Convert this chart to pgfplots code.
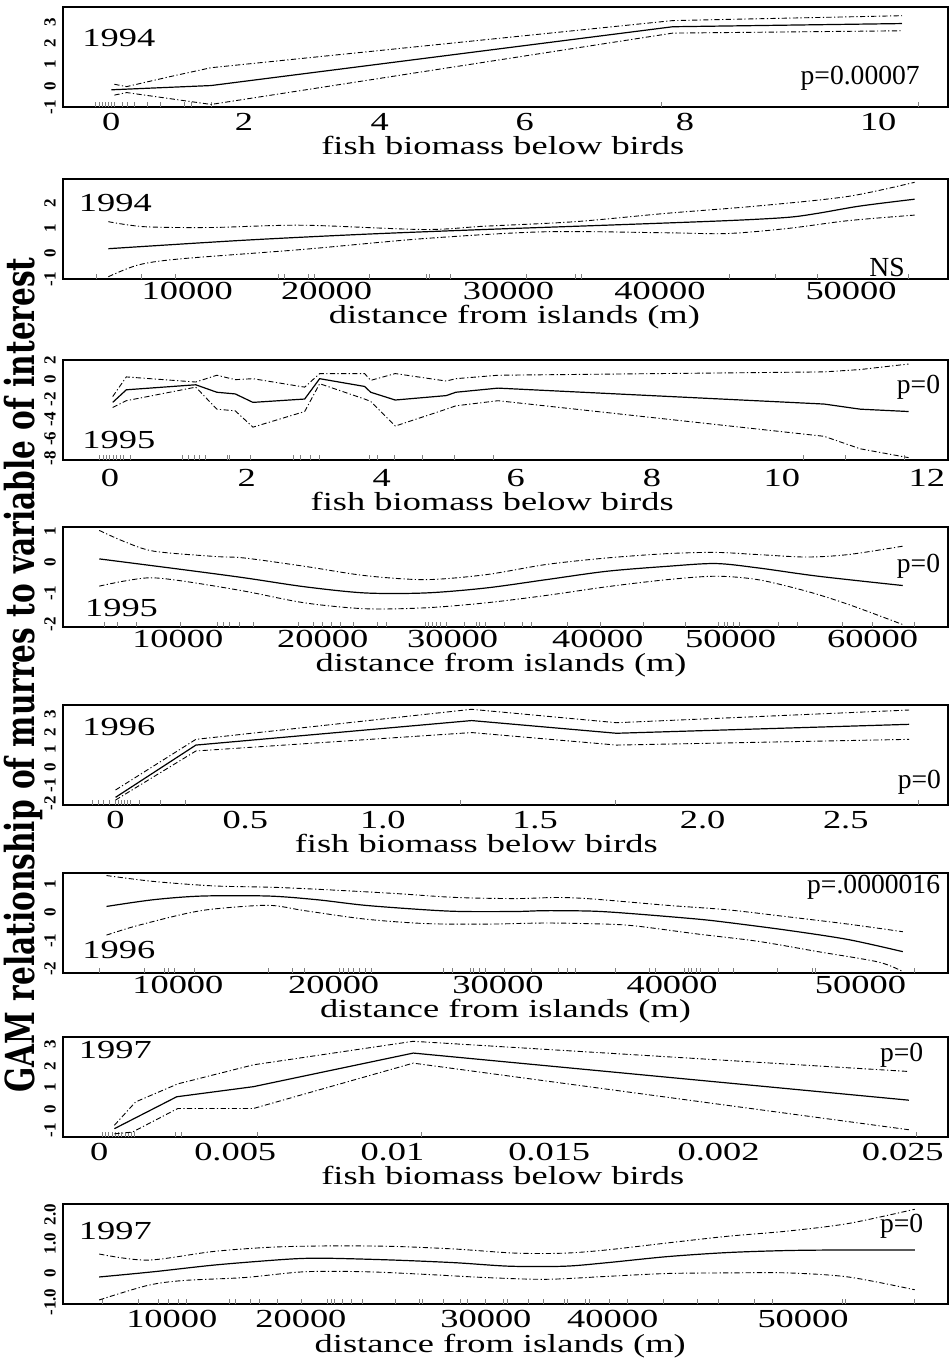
\documentclass[border=0pt]{standalone}
\usepackage{fontspec}
\setmainfont{Liberation Serif}[FakeStretch=1.4]
\newfontfamily\pfont{Liberation Serif}[FakeStretch=1.0]
\newfontfamily\yfont{Liberation Serif}
\newfontfamily\bigfont{DejaVu Serif}[FakeStretch=0.74]
\usepackage{pgfplots}
\pgfplotsset{compat=1.18}
\newcommand\tf{\fontsize{13}{14}\selectfont}
\newcommand\yf{\yfont\bfseries\fontsize{8.5}{9}\selectfont}
\newcommand\pf{\pfont\fontsize{13.8}{15}\selectfont}
\pgfplotsset{
  gam/.style={
    scale only axis, width=442.5pt, height=50pt, anchor=north west,
    axis line style={line width=0.8pt},
    xtick pos=bottom, ytick pos=left,
    major tick length=0pt,
    xticklabel style={font=\tf, anchor=center, inner sep=0pt},
    yticklabel style={font=\yf, rotate=90, anchor=center, inner sep=0pt},
    yticklabel shift=6.5pt,
    extra x tick style={major tick length=2.6pt, tick align=inside, tick style={line width=0.5pt}},
    extra x tick labels={},
    xlabel style={font=\tf, anchor=center, inner sep=0pt},
    scaled x ticks=false, scaled y ticks=false,
  },
  fit/.style={black, line width=0.6pt},
  band/.style={black, line width=0.45pt, dash pattern=on 2.6pt off 1.2pt on 0.6pt off 1.2pt},
}
\begin{document}
\begin{tikzpicture}
\path[use as bounding box] (0,0) rectangle (475pt,-679pt);
\node[rotate=90, font=\bigfont\bfseries\fontsize{20}{22}\selectfont] at (11.5pt,-337.5pt) {GAM relationship of murres to variable of interest};

% Panel 1
\begin{axis}[gam, at={(31.5pt,-3.5pt)},
  xmin=-0.63, xmax=10.91, ymin=-1, ymax=3.71,
  xtick={0,1.73,3.50,5.39,7.48,10}, xticklabels={0,2,4,6,8,10},
  ytick={-1,0,1,2,3}, yticklabels={-1,0,1,2,3},
  xticklabel shift=7.5pt,
  xlabel={fish biomass below birds}, xlabel style={at={(axis description cs:0.497,0)}, yshift=-19pt},
  extra x ticks={-0.2,-0.16,-0.12,-0.08,-0.04,0,0.04,0.15,0.21,0.30,0.47,0.64,0.95,1.04,1.31,7.17,10.52}]
\addplot[fit] coordinates {(0,-0.19) (1.30,0.01) (7.32,2.78) (10.31,2.93)};
\addplot[band] coordinates {(0.04,0.07) (0.20,-0.04) (0.79,0.45) (1.30,0.85) (7.32,3.07) (10.31,3.30)};
\addplot[band] coordinates {(0.04,-0.44) (0.20,-0.32) (1.30,-0.88) (7.32,2.48) (10.31,2.59)};
\node[font=\tf, anchor=west] at (rel axis cs:0.014,0.69) {1994};
\node[font=\pf, anchor=east] at (rel axis cs:0.976,0.29) {p=0.00007};
\end{axis}

% Panel 2
\begin{axis}[gam, at={(31.5pt,-89.5pt)},
  xmin=3290, xmax=56570, ymin=-1, ymax=2.96,
  xtick={10770,19160,30110,39230,50730}, xticklabels={10000,20000,30000,40000,50000},
  ytick={-1,0,1,2}, yticklabels={-1,0,1,2},
  xticklabel shift=6pt,
  xlabel={distance from islands (m)}, xlabel style={at={(axis description cs:0.51,0)}, yshift=-19pt},
  extra x ticks={5290,8030,10040,16240,16610,18070,18430,21720,25180,25360,26640,31200,34120,34490,43430,46170,48720,54200}]
\addplot[fit, smooth] coordinates {(6020,0.20) (14050,0.53) (21350,0.77) (28650,0.96) (35950,1.13) (43250,1.31) (46900,1.44) (48720,1.60) (51280,1.89) (54560,2.16)};
\addplot[band, smooth] coordinates {(6020,1.27) (8210,1.07) (12230,1.04) (17700,1.13) (25000,0.96) (28650,1.09) (34120,1.27) (39600,1.60) (45070,1.89) (50550,2.27) (54560,2.83)};
\addplot[band, smooth] coordinates {(6020,-0.91) (7840,-0.44) (10400,-0.20) (17700,0.17) (25000,0.60) (32300,0.87) (39600,0.83) (43250,0.80) (46900,1.00) (50550,1.31) (54560,1.53)};
\node[font=\tf, anchor=west] at (rel axis cs:0.01,0.76) {1994};
\node[font=\pf, anchor=east] at (rel axis cs:0.959,0.12) {NS};
\end{axis}

% Panel 3
\begin{axis}[gam, at={(31.5pt,-180pt)},
  xmin=-0.69, xmax=12.31, ymin=-8.17, ymax=2,
  xtick={0,2.01,3.99,5.96,7.96,9.87,12}, xticklabels={0,2,4,6,8,10,12},
  ytick={-8,-6,-4,-2,0,2}, yticklabels={-8,-6,-4,-2,0,2},
  xticklabel shift=9pt,
  xlabel={fish biomass below birds}, xlabel style={at={(axis description cs:0.485,0)}, yshift=-20.5pt},
  extra x ticks={-0.15,-0.1,-0.05,0,0.05,0.1,0.15,0.2,0.3,1.07,1.15,1.24,1.32,1.40,1.73,1.76,2.06,2.69,2.80,2.94,3.08,3.81,3.93,4.18,4.59,5.06,5.63,10.19,10.81,11.67}]
\addplot[fit] coordinates {(0.04,-2.31) (0.24,-1.03) (1.26,-0.52) (1.57,-1.28) (1.84,-1.45) (2.10,-2.31) (2.86,-1.97) (3.08,0.10) (3.74,-0.69) (3.83,-1.28) (4.19,-2.07) (4.94,-1.62) (5.08,-1.28) (5.70,-0.86) (10.49,-2.48) (11.02,-3.0) (11.73,-3.24)};
\addplot[band] coordinates {(0.04,-1.72) (0.24,0.28) (1.26,-0.24) (1.57,0.45) (1.84,0.0) (2.10,0.10) (2.86,-0.76) (3.08,0.62) (3.74,0.62) (3.83,-0.07) (4.19,0.62) (4.94,-0.14) (5.08,0.10) (5.70,0.45) (10.49,0.79) (11.02,1.03) (11.73,1.59)};
\addplot[band] coordinates {(0.04,-2.83) (0.24,-2.14) (1.26,-0.76) (1.57,-3.0) (1.84,-3.17) (2.10,-4.83) (2.86,-3.24) (3.08,-0.41) (3.74,-1.97) (3.83,-2.21) (4.19,-4.72) (4.94,-3.0) (5.08,-2.66) (5.70,-2.14) (10.49,-5.76) (11.02,-7.03) (11.73,-7.93)};
\node[font=\tf, anchor=west] at (rel axis cs:0.014,0.20) {1995};
\node[font=\pf, anchor=east] at (rel axis cs:0.999,0.73) {p=0};
\end{axis}

% Panel 4
\begin{axis}[gam, at={(31.5pt,-263.5pt)},
  xmin=1740, xmax=65430, ymin=-2.08, ymax=1.15,
  xtick={10000,20430,29780,40220,49780,60000}, xticklabels={10000,20000,30000,40000,50000,60000},
  ytick={-2,-1,0,1}, yticklabels={-2,-1,0,1},
  xticklabel shift=6pt,
  xlabel={distance from islands (m)}, xlabel style={at={(axis description cs:0.495,0)}, yshift=-19pt},
  extra x ticks={4700,5650,7040,10220,12830,13260,13700,14430,15430,18700,19780,20430,21090,21740,22610,24350,25000,27830,28040,28350,28610,28910,29350,30650,31520,31740,32170,33480,34780,35430,38040,40430,43480,46520,48910,49350,49570,50000,50430,53260,54570,57830,60000,63040}]
\addplot[fit, smooth] coordinates {(4350,0.12) (10430,-0.23) (14780,-0.49) (19130,-0.78) (23480,-0.98) (27830,-0.98) (32170,-0.82) (36520,-0.55) (40870,-0.28) (45220,-0.12) (48700,-0.03) (51740,-0.17) (56090,-0.44) (62170,-0.74)};
\addplot[band, smooth] coordinates {(4350,1.04) (6090,0.69) (8260,0.37) (12610,0.20) (14780,0.15) (19130,-0.12) (23480,-0.42) (27830,-0.55) (32170,-0.39) (36520,-0.06) (40870,0.15) (45220,0.29) (48700,0.33) (51740,0.26) (55220,0.18) (58260,0.26) (62170,0.53)};
\addplot[band, smooth] coordinates {(4350,-0.76) (6090,-0.60) (8040,-0.49) (10430,-0.60) (14780,-0.92) (19130,-1.30) (23480,-1.49) (27830,-1.46) (32170,-1.30) (36520,-1.06) (40870,-0.78) (45220,-0.55) (48700,-0.44) (51740,-0.55) (55220,-0.92) (58260,-1.35) (62170,-2.0)};
\node[font=\tf, anchor=west] at (rel axis cs:0.017,0.19) {1995};
\node[font=\pf, anchor=east] at (rel axis cs:0.999,0.61) {p=0};
\end{axis}

% Panel 5
\begin{axis}[gam, at={(31.5pt,-352.5pt)},
  xmin=-0.18, xmax=2.85, ymin=-2.09, ymax=3.5,
  xtick={0,0.444,0.915,1.436,2.01,2.5}, xticklabels={0,0.5,1.0,1.5,2.0,2.5},
  ytick={-2,-1,0,1,2,3}, yticklabels={-2,-1,0,1,2,3},
  xticklabel shift=7.5pt,
  xlabel={fish biomass below birds}, xlabel style={at={(axis description cs:0.467,0)}, yshift=-19pt},
  extra x ticks={-0.08,-0.06,-0.04,-0.02,0,0.01,0.02,0.03,0.04,0.05,0.083,0.155,0.238,1.18,1.71,2.75}]
\addplot[fit] coordinates {(0,-1.66) (0.275,1.26) (1.219,2.63) (1.715,1.92) (2.717,2.42)};
\addplot[band] coordinates {(0,-1.25) (0.275,1.58) (1.219,3.26) (1.715,2.51) (2.717,3.22)};
\addplot[band] coordinates {(0,-1.81) (0.275,0.93) (1.219,1.96) (1.715,1.26) (2.717,1.58)};
\node[font=\tf, anchor=west] at (rel axis cs:0.014,0.78) {1996};
\node[font=\pf, anchor=east] at (rel axis cs:1.0,0.23) {p=0};
\end{axis}

% Panel 6
\begin{axis}[gam, at={(31.5pt,-436.5pt)},
  xmin=3270, xmax=55130, ymin=-2.15, ymax=1.41,
  xtick={10000,19130,28760,38960,50000}, xticklabels={10000,20000,30000,40000,50000},
  ytick={-2,-1,0,1}, yticklabels={-2,-1,0,1},
  xticklabel shift=6pt,
  xlabel={distance from islands (m)}, xlabel style={at={(axis description cs:0.50,0)}, yshift=-19pt},
  extra x ticks={5400,8050,9220,9470,9820,10990,15310,16730,17430,19490,19730,19980,20270,20620,20970,21330,25580,26110,27170,27350,27700,28050,29120,30710,32300,32830,33290,35660,37610,37960,39660,39910,40090,40370,40620,41680,42570,45150,47170,47350,53190}]
\addplot[fit, smooth] coordinates {(5820,0.22) (8580,0.46) (11420,0.59) (15310,0.59) (18140,0.46) (20970,0.26) (24510,0.10) (26640,0.04) (29820,0.04) (31590,0.07) (34420,0.05) (36900,-0.05) (40440,-0.23) (42210,-0.35) (45750,-0.63) (49290,-0.96) (52480,-1.39)};
\addplot[band, smooth] coordinates {(5820,1.32) (8580,1.11) (12120,0.95) (15660,0.90) (19200,0.80) (22740,0.68) (26280,0.54) (29820,0.50) (32300,0.54) (34420,0.48) (38670,0.26) (42210,0.10) (45750,-0.15) (49290,-0.41) (52480,-0.68)};
\addplot[band, smooth] coordinates {(5820,-0.80) (7520,-0.48) (10350,-0.05) (12120,0.13) (15310,0.26) (17430,0.07) (20970,-0.23) (24510,-0.39) (28050,-0.41) (31590,-0.37) (35130,-0.41) (36900,-0.48) (40440,-0.76) (43980,-1.02) (47520,-1.39) (51060,-1.76) (52480,-2.10)};
\node[font=\tf, anchor=west] at (rel axis cs:0.014,0.23) {1996};
\node[font=\pf, anchor=east] at (rel axis cs:0.999,0.855) {p=.0000016};
\end{axis}

% Panel 7
\begin{axis}[gam, at={(31.5pt,-518.5pt)},
  xmin=-0.00113, xmax=0.02641, ymin=-1.31, ymax=3.36,
  xtick={0,0.00423,0.00912,0.01400,0.01927,0.025}, xticklabels={0,0.005,0.01,0.015,0.002,0.025},
  ytick={-1,0,1,2,3}, yticklabels={-1,0,1,2,3},
  xticklabel shift=7.5pt,
  xlabel={fish biomass below birds}, xlabel style={at={(axis description cs:0.497,0)}, yshift=-19pt},
  extra x ticks={0.0001,0.0002,0.0003,0.0004,0.0005,0.0006,0.0007,0.0008,0.0009,0.0010,0.0011,0.00237,0.00255,0.00492,0.01002,0.02543}]
\addplot[fit] coordinates {(0.00047,-0.92) (0.00241,0.57) (0.00479,1.04) (0.00977,2.61) (0.02519,0.41)};
\addplot[band] coordinates {(0.00047,-0.76) (0.00113,0.33) (0.00244,1.17) (0.00479,2.06) (0.00977,3.16) (0.02519,1.75)};
\addplot[band] coordinates {(0.00047,-1.16) (0.00103,-1.08) (0.00244,0.02) (0.00479,0.02) (0.00977,2.14) (0.02519,-0.97)};
\node[font=\tf, anchor=west] at (rel axis cs:0.01,0.87) {1997};
\node[font=\pf, anchor=east] at (rel axis cs:0.98,0.82) {p=0};
\end{axis}

% Panel 8
\begin{axis}[gam, at={(31.5pt,-602pt)},
  xmin=3640, xmax=60100, ymin=-1.07, ymax=2.37,
  xtick={10580,18820,30620,38710,50850}, xticklabels={10000,20000,30000,40000,50000},
  ytick={-1,0,1,2}, yticklabels={-1.0,0,1.0,2.0},
  xticklabel shift=7.5pt,
  xlabel={distance from islands (m)}, xlabel style={at={(axis description cs:0.494,0)}, yshift=-21pt},
  extra x ticks={6150,8460,9730,10390,11040,11540,14240,14620,15590,16170,17320,18860,20520,20790,20980,21450,22060,22720,24840,26380,26570,27920,29000,29460,30620,31770,31970,33310,34280,35630,35820,36980,37240,38520,39670,41980,44100,45450,47770,48920,53350,53550,57980}]
\addplot[fit, smooth] coordinates {(5950,-0.14) (9420,0.04) (13280,0.27) (17130,0.44) (19060,0.50) (20980,0.50) (24840,0.44) (28690,0.35) (32160,0.23) (35630,0.23) (38320,0.35) (42180,0.56) (46030,0.70) (49880,0.77) (53740,0.79) (57980,0.79)};
\addplot[band, smooth] coordinates {(5950,0.65) (9040,0.44) (13280,0.74) (17130,0.89) (20980,0.93) (24840,0.91) (28690,0.82) (32540,0.68) (35630,0.68) (38320,0.79) (42180,1.03) (46030,1.26) (49880,1.44) (53740,1.70) (57980,2.19)};
\addplot[band, smooth] coordinates {(5950,-0.93) (9040,-0.43) (11350,-0.26) (15200,-0.16) (19060,0.04) (22910,0.04) (26760,-0.05) (30620,-0.16) (34470,-0.22) (38320,-0.12) (42180,-0.02) (46030,0.0) (49880,0.0) (53740,-0.14) (57980,-0.58)};
\node[font=\tf, anchor=west] at (rel axis cs:0.01,0.73) {1997};
\node[font=\pf, anchor=east] at (rel axis cs:0.98,0.78) {p=0};
\end{axis}
\end{tikzpicture}
\end{document}
